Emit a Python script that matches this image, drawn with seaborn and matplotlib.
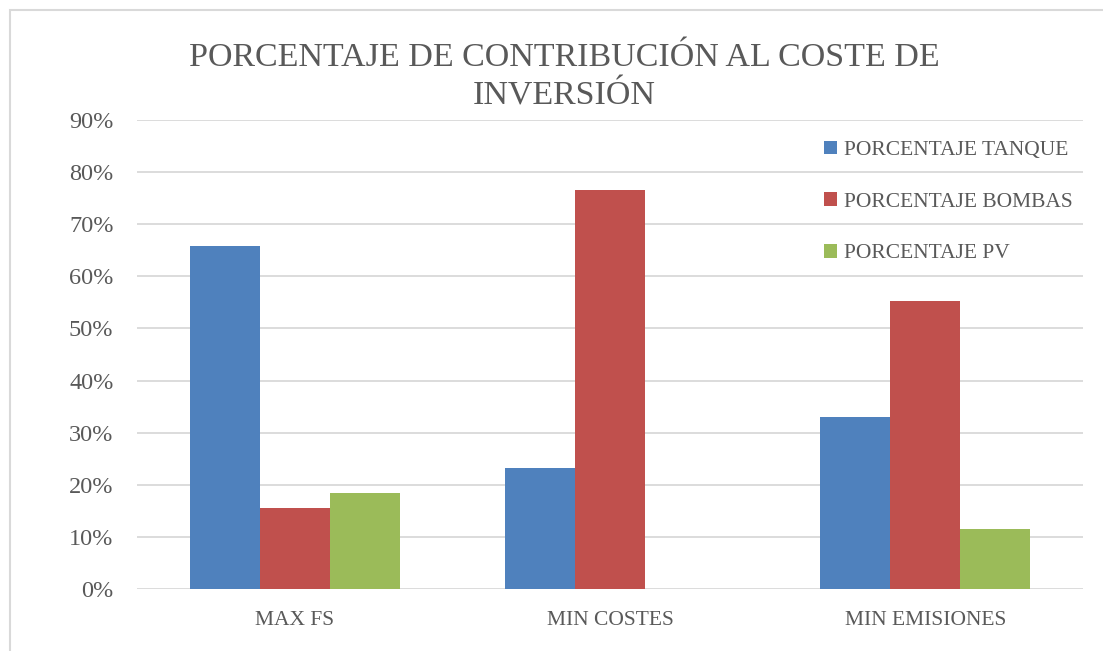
import pandas as pd
import seaborn as sns
import matplotlib.pyplot as plt
from matplotlib.patches import Rectangle
from matplotlib.ticker import PercentFormatter

# datos
casos = ['MAX FS', 'MIN COSTES', 'MIN EMISIONES']
series = ['PORCENTAJE TANQUE', 'PORCENTAJE BOMBAS', 'PORCENTAJE PV']
tanque = [0.658, 0.232, 0.330]
bombas = [0.155, 0.766, 0.553]
pv = [0.184, 0.0, 0.115]
colores = ['#4F81BD', '#C0504D', '#9BBB59']

df = pd.DataFrame({
    'caso': casos * 3,
    'serie': [s for s in series for _ in casos],
    'valor': tanque + bombas + pv,
})

sns.set_style('white')
plt.rcParams['font.family'] = ['Liberation Serif', 'DejaVu Serif']
gris = '#595959'

fig = plt.figure(figsize=(11.03, 6.51), dpi=100)
ax = fig.add_axes([137 / 1103, 1 - 589 / 651, 946 / 1103, 469 / 651])

sns.barplot(data=df, x='caso', y='valor', hue='serie', palette=colores,
            width=0.667, saturation=1, ax=ax, linewidth=0)

ax.set_ylim(0, 0.9)
ax.set_xlim(-0.5, 2.5)
ax.set_yticks([i / 10 for i in range(10)])
ax.yaxis.set_major_formatter(PercentFormatter(1.0, decimals=0))
ax.grid(axis='y', color='#D9D9D9', linewidth=1.3)
ax.set_axisbelow(True)
for sp in ax.spines.values():
    sp.set_visible(False)
ax.tick_params(axis='both', length=0, labelcolor=gris)
ax.tick_params(axis='y', pad=17, labelsize=17.5)
ax.tick_params(axis='x', pad=16, labelsize=15.5)
ax.set_xlabel('')
ax.set_ylabel('')

leg = ax.legend(loc='upper left', bbox_to_anchor=(815 / 1103, 1 - 132 / 651),
                bbox_transform=fig.transFigure, frameon=False, fontsize=15.5,
                handlelength=0.6, handleheight=0.6, handletextpad=0.35,
                labelspacing=1.5, borderaxespad=0)
for t in leg.get_texts():
    t.set_color(gris)

fig.text(564 / 1103, 1 - 77 / 651,
         'PORCENTAJE DE CONTRIBUCIÓN AL COSTE DE\nINVERSIÓN',
         ha='center', va='center', fontsize=24.5, color=gris, linespacing=1.35)

# marco exterior del grafico
fig.patches.append(Rectangle((10 / 1103, -0.1), 1.2, 1 - 10 / 651 + 0.1,
                             transform=fig.transFigure, fill=False,
                             edgecolor='#D9D9D9', linewidth=1.5))

fig.savefig('out.png', dpi=100)
